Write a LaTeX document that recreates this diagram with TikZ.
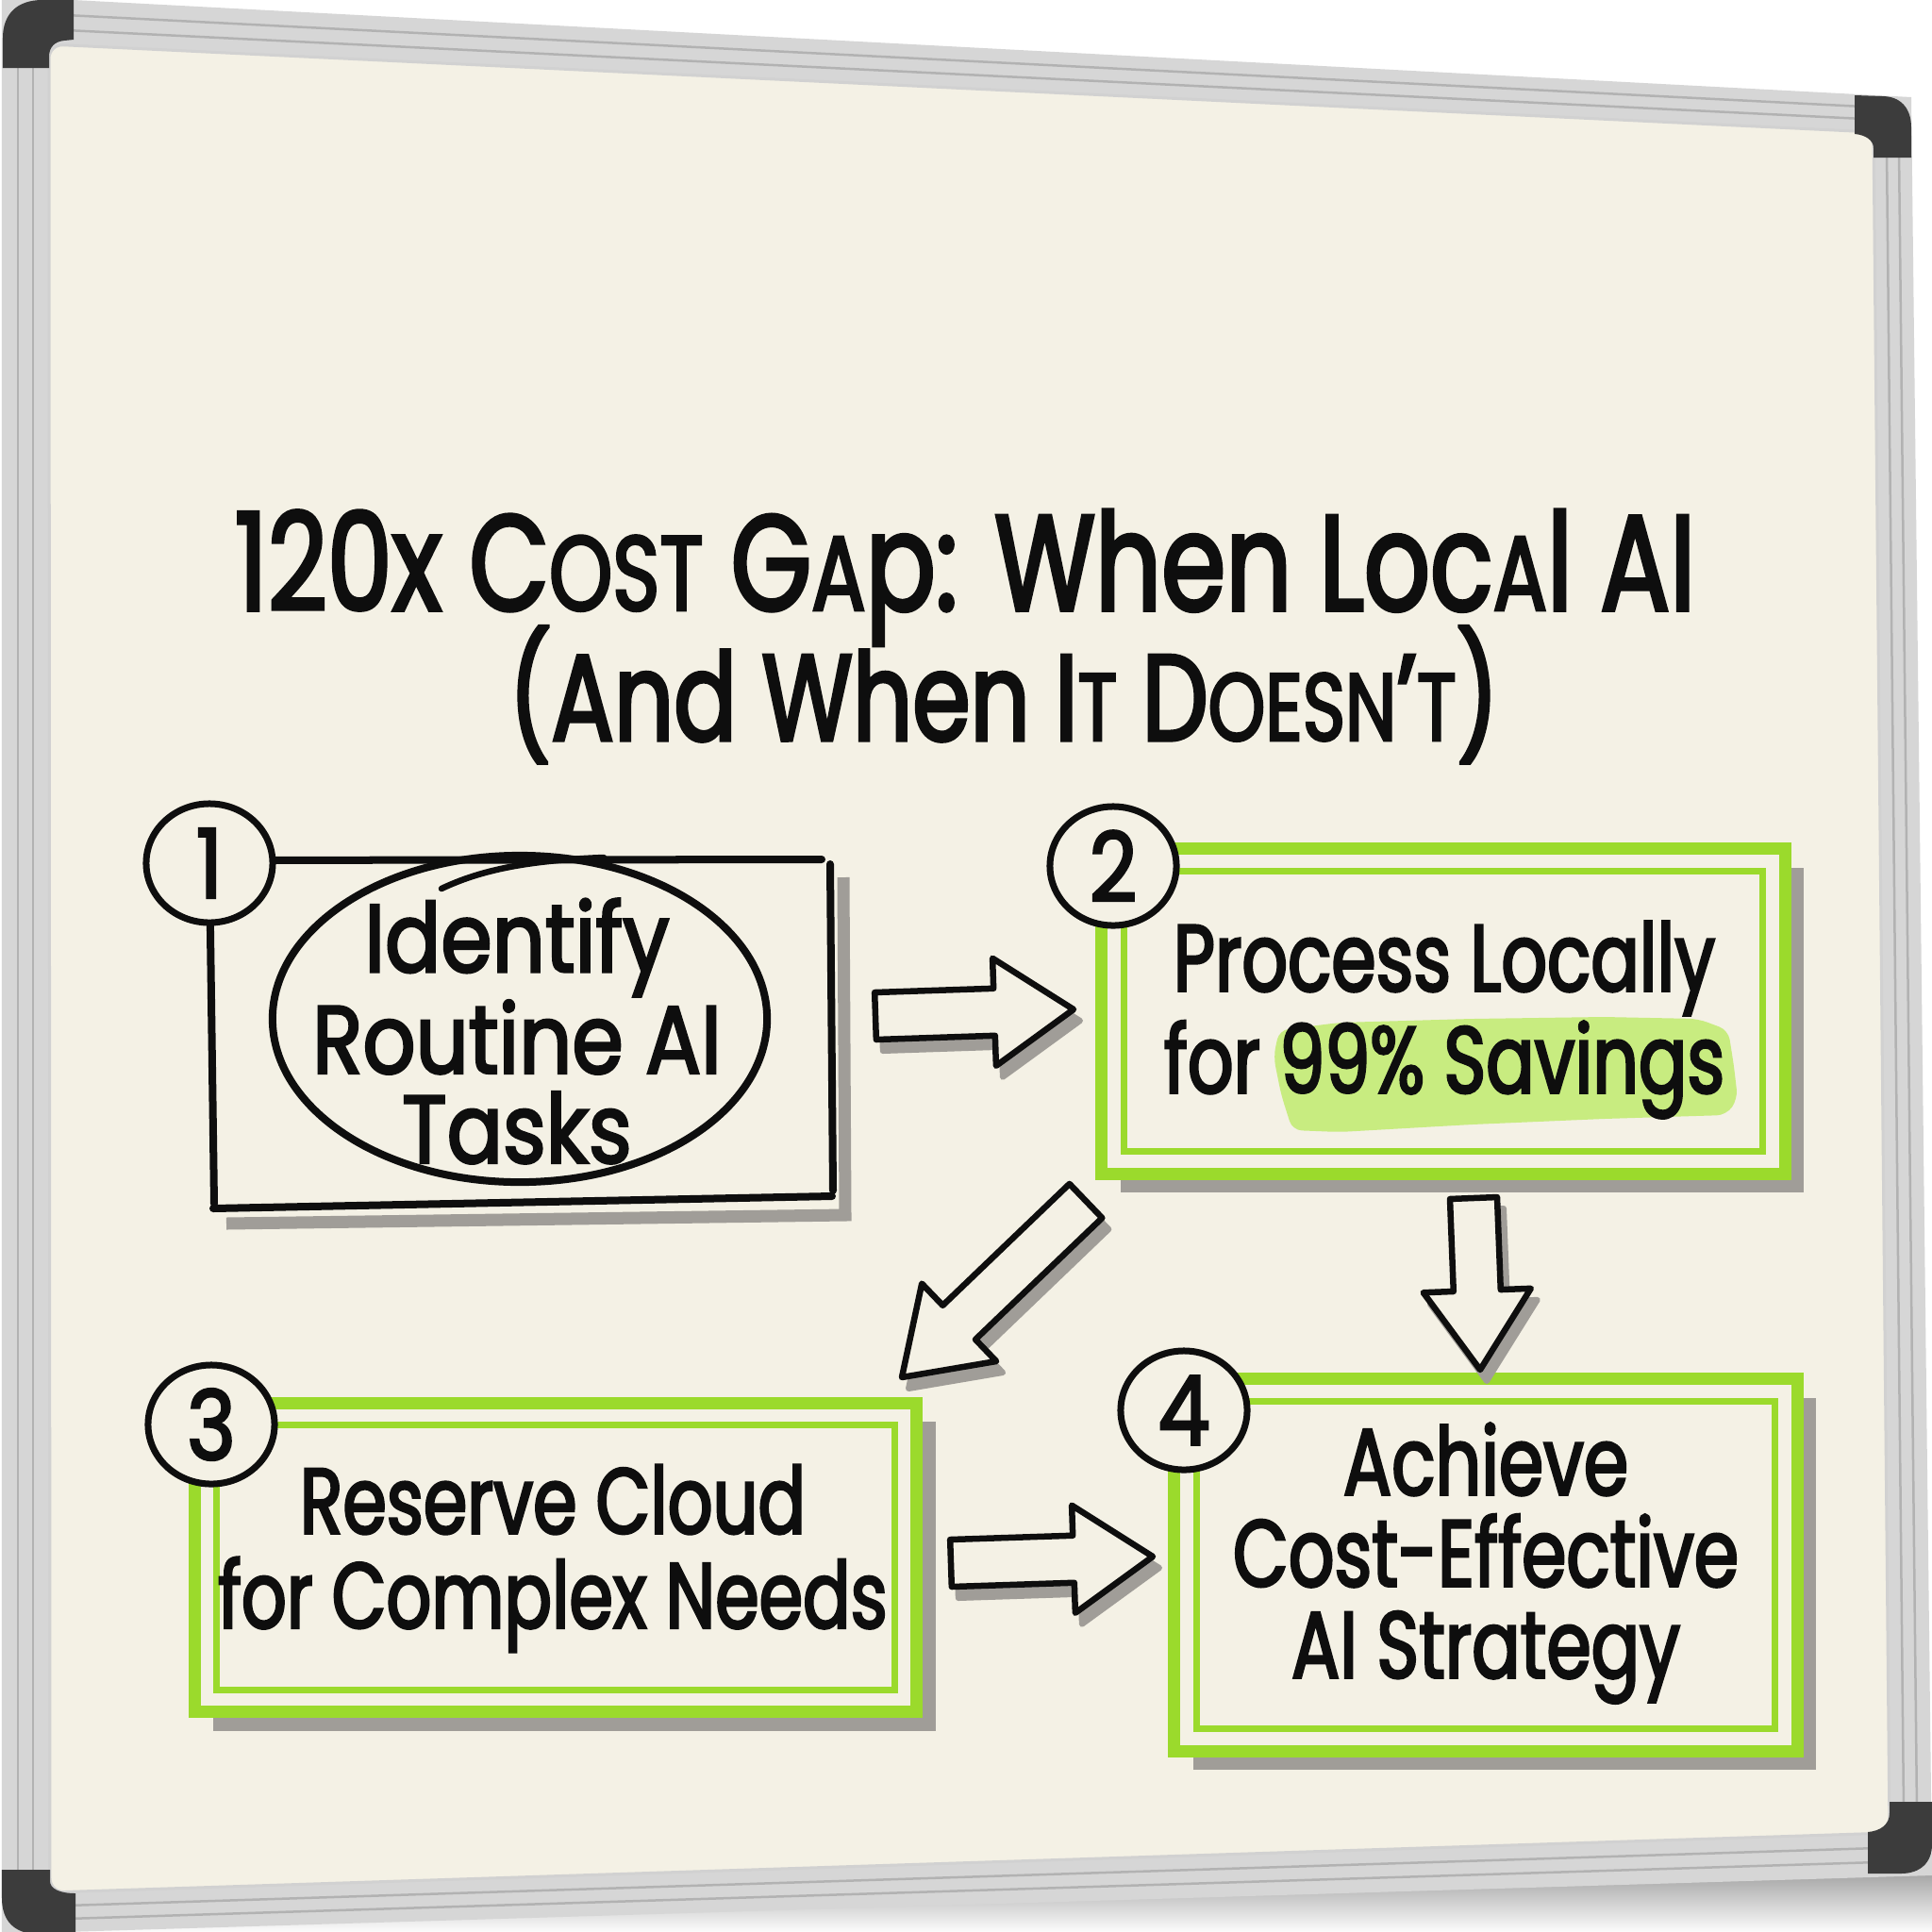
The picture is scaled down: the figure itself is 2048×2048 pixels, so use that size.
\documentclass[tikz,border=0pt]{standalone}
\usepackage{graphicx}
\usepackage{fontspec}
\newfontfamily\handfont{Poppins}[FakeStretch=0.76,FakeBold=2.6]
\newfontfamily\handwide{Poppins}[FakeStretch=0.86,FakeBold=2.6]
\usetikzlibrary{positioning,calc,shapes.geometric,shadows}

\definecolor{boardcream}{RGB}{244,241,229}
\definecolor{limegreen}{RGB}{155,218,44}
\definecolor{hilite}{RGB}{200,236,128}
\definecolor{alu}{RGB}{214,214,214}
\definecolor{aludark}{RGB}{178,178,178}
\definecolor{capgray}{RGB}{60,60,60}
\definecolor{shadowgray}{RGB}{160,157,152}
\definecolor{ink}{RGB}{14,14,14}

\newcommand{\smcap}[1]{\scalebox{0.78}{#1}}

% block arrow from tail #1 to tip #2
\newcommand{\blockarrow}[2]{%
  \coordinate (hb) at ($(#2)!0.84cm!(#1)$);
  \draw[arrshadow] ($(#1)!0.25cm!90:(#2)$) -- ($(hb)!0.25cm!-90:(#1)$) -- ($(hb)!0.57cm!-90:(#1)$) -- (#2)
    -- ($(hb)!0.57cm!90:(#1)$) -- ($(hb)!0.25cm!90:(#1)$) -- ($(#1)!0.25cm!-90:(#2)$) -- cycle;
  \draw[arrbody] ($(#1)!0.25cm!90:(#2)$) -- ($(hb)!0.25cm!-90:(#1)$) -- ($(hb)!0.57cm!-90:(#1)$) -- (#2)
    -- ($(hb)!0.57cm!90:(#1)$) -- ($(hb)!0.25cm!90:(#1)$) -- ($(#1)!0.25cm!-90:(#2)$) -- cycle;}

\begin{document}
\begin{tikzpicture}[x=0.01cm, y=-0.01cm,
  handline/.style={draw=ink, line width=0.08cm, line cap=round},
  greenbox/.style={rectangle, draw=limegreen, line width=0.13cm, fill=boardcream, inner sep=0pt,
    drop shadow={shadow xshift=0.2cm, shadow yshift=-0.2cm, fill=shadowgray, opacity=1}},
  greeninner/.style={draw=limegreen, line width=0.07cm},
  numcirc/.style={ellipse, draw=ink, line width=0.07cm, fill=boardcream, minimum width=1.34cm,
    minimum height=1.26cm, inner sep=0pt, font=\handwide\fontsize{29}{29}\selectfont, text=ink},
  boxtext/.style={align=center, inner sep=0pt, text=ink},
  titletext/.style={text=ink, inner sep=0pt, anchor=base},
  arrbody/.style={draw=ink, fill=boardcream, line width=0.065cm, line join=round},
  arrshadow/.style={fill=shadowgray, draw=shadowgray, line width=0.06cm, line join=round,
    transform canvas={shift={(0.07cm,-0.12cm)}}},
  groove/.style={draw=aludark, line width=0.025cm},
  capfill/.style={fill=capgray},
]
  \fill[white] (0,0) rectangle (2048,2048);
  \useasboundingbox (0,0) rectangle (2048,2048);

  % board, frame and corner caps
  \shade[top color=black!35, bottom color=white] (2,2050) -- (2048,1986) -- (2048,2048) -- (2,2048) -- cycle;
  \fill[alu] (2,-4) -- (2026,103) -- (2048,1988) -- (2,2050) -- cycle;
  \draw[groove] (70,16) -- (1975,113);
  \draw[groove] (70,32) -- (1975,126);
  \draw[groove] (19,60) -- (19,1990);
  \draw[groove] (35,60) -- (35,1990);
  \draw[groove] (2000,160) -- (2018,1920);
  \draw[groove] (2013,160) -- (2032,1920);
  \draw[groove] (70,2020) -- (1990,1959);
  \draw[groove] (70,2034) -- (1990,1974);
  \fill[boardcream, rounded corners=0.15cm] (52,47) -- (1986,140) -- (2003,1943) -- (53,2006) -- cycle;
  \draw[black!18, line width=0.03cm, rounded corners=0.15cm] (52,47) -- (1986,140) -- (2003,1943) -- (53,2006) -- cycle;
  \fill[capfill] (3,72) -- (3,40) .. controls (3,15) and (18,0) .. (45,0) -- (78,0) -- (78,42)
    -- (68,43) .. controls (58,44) and (52,50) .. (52,60) -- (52,72) -- cycle;
  \fill[capfill] (1966,101) -- (1995,102) .. controls (2015,102) and (2026,115) .. (2026,135) -- (2026,167)
    -- (1986,167) -- (1986,157) .. controls (1986,149) and (1978,143) .. (1966,142) -- cycle;
  \fill[capfill] (2003,1910) -- (2048,1910) -- (2048,1955) .. controls (2048,1975) and (2035,1986) .. (2015,1986)
    -- (1980,1986) -- (1980,1942) .. controls (1993,1941) and (2003,1934) .. (2003,1922) -- cycle;
  \fill[capfill] (2,1982) -- (53,1982) -- (53,1994) .. controls (53,2002) and (63,2007) .. (80,2007)
    -- (80,2050) -- (40,2050) .. controls (15,2050) and (2,2036) .. (2,2012) -- cycle;

  % title
  \node[titletext, font=\handfont\fontsize{41}{41}\selectfont] (title1) at (1023,647)
    {120x C\smcap{OST} G\smcap{A}p: When Loc\smcap{A}l AI};
  \node[titletext, font=\handfont\fontsize{37}{37}\selectfont] (title2) at (1064,785)
    {(And When I\smcap{T} D\smcap{OESN}’\smcap{T})};

  % step 1: sketched box with ellipse
  \draw[shadowgray, line width=0.13cm] (894,930) -- (896,1288) -- (240,1297);
  \draw[handline] (222,912) -- (871,911);
  \draw[handline] (880,916) -- (883,1262);
  \draw[handline] (226,1281) -- (882,1268);
  \draw[handline] (222,915) -- (227,1276);
  \node[ellipse, draw=ink, line width=0.08cm, minimum width=5.24cm, minimum height=3.46cm, inner sep=0pt] (task1) at (551,1080) {};
  \draw[handline, line width=0.065cm] (468,942) .. controls (510,922) and (560,912) .. (640,909);
  \node[boxtext, font=\handwide\fontsize{29}{27}\selectfont] (t1) at (548,1093) {Identify\\Routine AI\\Tasks};

  % steps 2 to 4: green boxes
  \node[greenbox, minimum width=7.24cm, minimum height=3.44cm] (box2) at (1530,1072) {};
  \node[greenbox, minimum width=7.65cm, minimum height=3.27cm] (box3) at (589,1651) {};
  \node[greenbox, minimum width=6.60cm, minimum height=3.94cm] (box4) at (1575,1659) {};
  \foreach \b in {box2,box3,box4}
    \draw[greeninner] ($(\b.north west)+(30,30)$) rectangle ($(\b.south east)+(-30,-30)$);

  \fill[hilite, rounded corners=0.1cm] (1356,1092) -- (1420,1084) -- (1560,1080) -- (1700,1078) -- (1800,1080)
    -- (1832,1092) -- (1838,1130) -- (1842,1165) -- (1830,1182) -- (1700,1186) -- (1560,1192) -- (1420,1200)
    -- (1370,1198) -- (1358,1160) -- (1350,1120) -- cycle;
  \node[boxtext, font=\handfont\fontsize{28.5}{30.7}\selectfont] (t2) at (1531,1081) {Process Locally\\for 99\% Savings};
  \node[boxtext, font=\handfont\fontsize{28}{28.5}\selectfont] (t3) at (586,1652) {Reserve Cloud\\for Complex Needs};
  \node[boxtext, font=\handfont\fontsize{28.5}{27.6}\selectfont] (t4) at (1575,1657) {Achieve\\Cost-Effective\\AI Strategy};

  % step numbers
  \node[numcirc] (n1) at (222,915) {1};
  \node[numcirc] (n2) at (1180,918) {2};
  \node[numcirc] (n3) at (224,1510) {3};
  \node[numcirc] (n4) at (1255,1495) {4};

  % arrows between the steps
  \coordinate (a12t) at (928,1077);  \coordinate (a12h) at (1138,1070);
  \coordinate (a23t) at (1151,1273); \coordinate (a23h) at (956,1460);
  \coordinate (a24t) at (1562,1270); \coordinate (a24h) at (1569,1452);
  \coordinate (a34t) at (1008,1657); \coordinate (a34h) at (1222,1650);
  \blockarrow{a12t}{a12h}
  \blockarrow{a23t}{a23h}
  \blockarrow{a24t}{a24h}
  \blockarrow{a34t}{a34h}
\end{tikzpicture}
\end{document}
